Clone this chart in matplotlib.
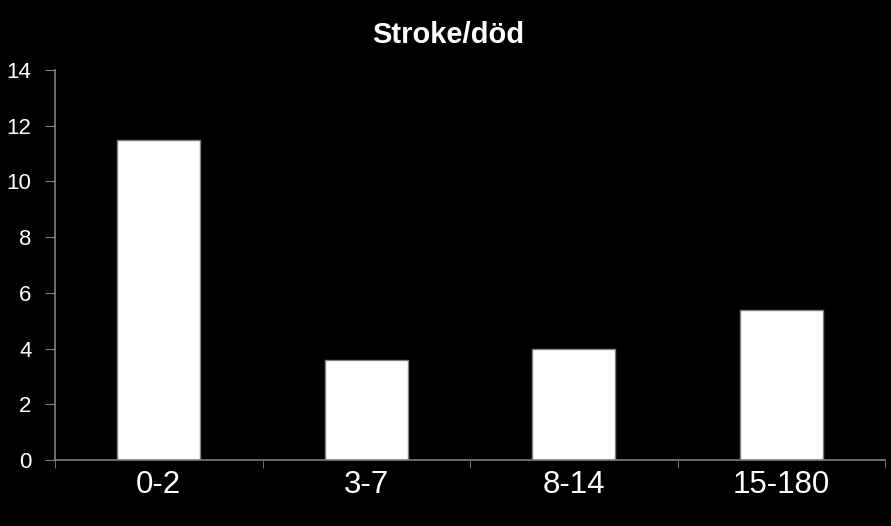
import matplotlib
matplotlib.use("Agg")
import matplotlib.pyplot as plt
import numpy as np

categories = ["0-2", "3-7", "8-14", "15-180"]
values = [11.5, 3.6, 4.0, 5.4]
yticks = [0, 2, 4, 6, 8, 10, 12, 14]
title = "Stroke/död"

plt.rcParams['font.family'] = ['Liberation Sans', 'DejaVu Sans']

fig = plt.figure(figsize=(8.91, 5.26), dpi=100, facecolor='black')
ax = fig.add_axes([55/891, 66/526, 830/891, 390/526], facecolor='black')

x = np.arange(len(categories))
ax.bar(x, values, width=0.4, color='white', edgecolor='#808080', linewidth=1)

ax.set_xlim(-0.5, len(categories) - 0.5)
ax.set_ylim(0, 14)
ax.set_yticks(yticks)
ax.set_yticklabels([str(v) for v in yticks], fontsize=16, color='white')
ax.set_xticks(x)
ax.set_xticklabels(categories, fontsize=22.5, color='white')
ax.tick_params(axis='x', which='major', length=0, pad=7)
ax.set_xticks(np.arange(-0.5, len(categories), 1.0), minor=True)
ax.tick_params(axis='x', which='minor', length=6, color='#808080', direction='out')
ax.tick_params(axis='y', length=7, color='#808080', direction='out', pad=10)

for s in ['top', 'right']:
    ax.spines[s].set_visible(False)
for s in ['left', 'bottom']:
    ax.spines[s].set_color('#808080')
    ax.spines[s].set_linewidth(1.2)

fig.text(448/891, 1 - 35/526, title, ha='center', va='center', fontsize=21,
         fontweight='bold', color='white')

fig.savefig("out.png", dpi=100, facecolor='black')
